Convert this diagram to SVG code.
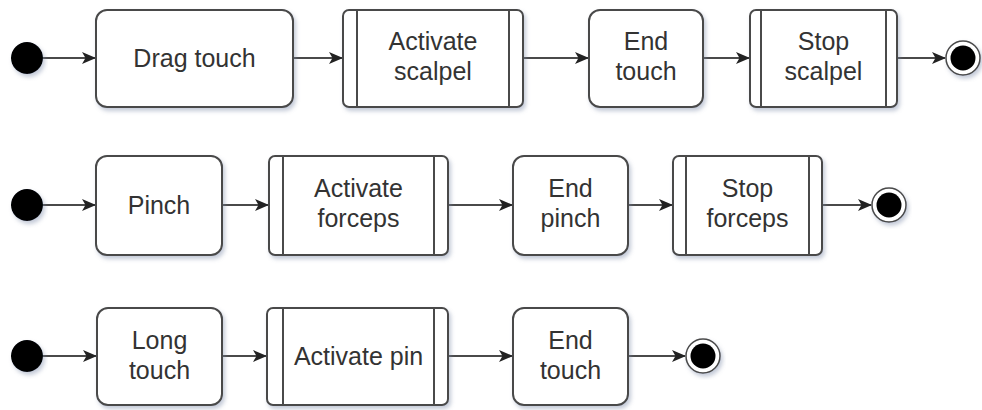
<svg xmlns="http://www.w3.org/2000/svg" width="982" height="410" viewBox="0 0 982 410">
  <defs>
    <filter id="shadow" x="-10%" y="-10%" width="125%" height="130%">
      <feDropShadow dx="2" dy="3" stdDeviation="2" flood-color="#7d8aa8" flood-opacity="0.45"/>
    </filter>
    <marker id="arrow" viewBox="0 0 14 12" markerWidth="14" markerHeight="12" refX="13" refY="6" orient="auto" markerUnits="userSpaceOnUse">
      <path d="M0,0 L14,6 L0,12 L3.5,6 Z" fill="#222222"/>
    </marker>
    <style>
      .state { fill: #ffffff; stroke: #4a4a4a; stroke-width: 2; filter: url(#shadow); }
      .bar { stroke: #4a4a4a; stroke-width: 2; fill: none; }
      .label { font-family: "Liberation Sans", Arial, sans-serif; font-size: 25px; fill: #333333; text-anchor: middle; }
      .edge { stroke: #4a4a4a; stroke-width: 2; fill: none; marker-end: url(#arrow); }
      .start { fill: #000000; filter: url(#shadow); }
      .endRing { fill: #ffffff; stroke: #4a4a4a; stroke-width: 1.5; filter: url(#shadow); }
      .endDot { fill: #000000; }
    </style>
  </defs>

  <!-- connectors -->
  <g id="connectors">
    <!-- row 1 -->
    <line class="edge" x1="43" y1="58" x2="95" y2="58"/>
    <line class="edge" x1="293" y1="58" x2="342" y2="58"/>
    <line class="edge" x1="523" y1="58" x2="588" y2="58"/>
    <line class="edge" x1="703" y1="58" x2="749" y2="58"/>
    <line class="edge" x1="897" y1="58" x2="945" y2="58"/>
    <!-- row 2 -->
    <line class="edge" x1="43" y1="205" x2="95" y2="205"/>
    <line class="edge" x1="222" y1="205" x2="268" y2="205"/>
    <line class="edge" x1="448" y1="205" x2="512" y2="205"/>
    <line class="edge" x1="628" y1="205" x2="672" y2="205"/>
    <line class="edge" x1="822" y1="205" x2="871" y2="205"/>
    <!-- row 3 -->
    <line class="edge" x1="43" y1="356" x2="96" y2="356"/>
    <line class="edge" x1="222" y1="356" x2="266" y2="356"/>
    <line class="edge" x1="448" y1="356" x2="512" y2="356"/>
    <line class="edge" x1="628" y1="356" x2="685" y2="356"/>
  </g>

  <!-- row 1: scalpel -->
  <g id="start1"><circle class="start" cx="27" cy="58" r="16"/></g>
  <g id="dragTouch">
    <rect class="state" x="96" y="10" width="197" height="97" rx="11"/>
    <text class="label" x="194.5" y="67">Drag touch</text>
  </g>
  <g id="activateScalpel">
    <rect class="state" x="343" y="10" width="180" height="97" rx="6"/>
    <line class="bar" x1="357" y1="10" x2="357" y2="107"/>
    <line class="bar" x1="509" y1="10" x2="509" y2="107"/>
    <text class="label" x="433" y="50">Activate</text>
    <text class="label" x="433" y="80">scalpel</text>
  </g>
  <g id="endTouch1">
    <rect class="state" x="589" y="10" width="114" height="97" rx="11"/>
    <text class="label" x="646" y="50">End</text>
    <text class="label" x="646" y="80">touch</text>
  </g>
  <g id="stopScalpel">
    <rect class="state" x="750" y="10" width="147" height="97" rx="6"/>
    <line class="bar" x1="761" y1="10" x2="761" y2="107"/>
    <line class="bar" x1="886" y1="10" x2="886" y2="107"/>
    <text class="label" x="823.5" y="50">Stop</text>
    <text class="label" x="823.5" y="80">scalpel</text>
  </g>
  <g id="end1">
    <circle class="endRing" cx="963" cy="58" r="17"/>
    <circle class="endDot" cx="963" cy="58" r="12.5"/>
  </g>

  <!-- row 2: forceps -->
  <g id="start2"><circle class="start" cx="27" cy="205" r="16"/></g>
  <g id="pinch">
    <rect class="state" x="96" y="156" width="126" height="99" rx="11"/>
    <text class="label" x="159" y="214">Pinch</text>
  </g>
  <g id="activateForceps">
    <rect class="state" x="269" y="156" width="179" height="99" rx="6"/>
    <line class="bar" x1="283" y1="156" x2="283" y2="255"/>
    <line class="bar" x1="434" y1="156" x2="434" y2="255"/>
    <text class="label" x="358.5" y="197">Activate</text>
    <text class="label" x="358.5" y="227">forceps</text>
  </g>
  <g id="endPinch">
    <rect class="state" x="513" y="156" width="115" height="99" rx="11"/>
    <text class="label" x="570.5" y="197">End</text>
    <text class="label" x="570.5" y="227">pinch</text>
  </g>
  <g id="stopForceps">
    <rect class="state" x="673" y="156" width="149" height="99" rx="6"/>
    <line class="bar" x1="686" y1="156" x2="686" y2="255"/>
    <line class="bar" x1="809" y1="156" x2="809" y2="255"/>
    <text class="label" x="747.5" y="197">Stop</text>
    <text class="label" x="747.5" y="227">forceps</text>
  </g>
  <g id="end2">
    <circle class="endRing" cx="889" cy="205" r="17"/>
    <circle class="endDot" cx="889" cy="205" r="12.5"/>
  </g>

  <!-- row 3: pin -->
  <g id="start3"><circle class="start" cx="27" cy="356" r="16"/></g>
  <g id="longTouch">
    <rect class="state" x="97" y="308" width="125" height="97" rx="11"/>
    <text class="label" x="159.5" y="349">Long</text>
    <text class="label" x="159.5" y="379">touch</text>
  </g>
  <g id="activatePin">
    <rect class="state" x="267" y="308" width="181" height="97" rx="6"/>
    <line class="bar" x1="283" y1="308" x2="283" y2="405"/>
    <line class="bar" x1="434" y1="308" x2="434" y2="405"/>
    <text class="label" x="358.5" y="365">Activate pin</text>
  </g>
  <g id="endTouch3">
    <rect class="state" x="513" y="308" width="115" height="97" rx="11"/>
    <text class="label" x="570.5" y="349">End</text>
    <text class="label" x="570.5" y="379">touch</text>
  </g>
  <g id="end3">
    <circle class="endRing" cx="703" cy="356" r="17"/>
    <circle class="endDot" cx="703" cy="356" r="12.5"/>
  </g>
</svg>
